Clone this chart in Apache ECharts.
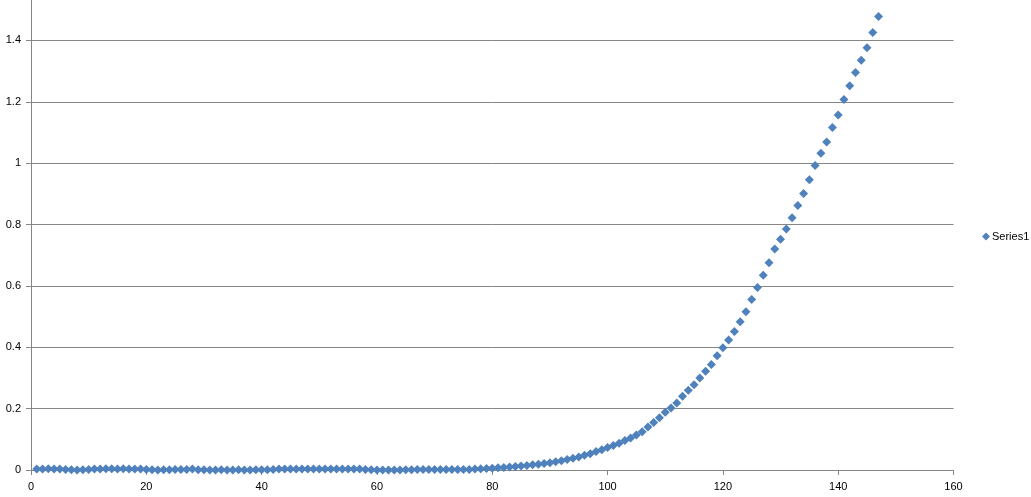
<!DOCTYPE html>
<html>
<head>
<meta charset="utf-8">
<script src="https://cdn.jsdelivr.net/npm/echarts@6/dist/echarts.min.js"></script>
<style>
html,body{margin:0;padding:0;background:#fff;}
#chart{width:1031px;height:497px;}
</style>
</head>
<body>
<div id="chart"></div>
<script>
var seriesName = 'Series1';
var xValues = [
  1,2,3,4,5,6,7,8,9,10,11,12,13,14,15,16,17,18,19,20,
  21,22,23,24,25,26,27,28,29,30,31,32,33,34,35,36,37,38,39,40,
  41,42,43,44,45,46,47,48,49,50,51,52,53,54,55,56,57,58,59,60,
  61,62,63,64,65,66,67,68,69,70,71,72,73,74,75,76,77,78,79,80,
  81,82,83,84,85,86,87,88,89,90,91,92,93,94,95,96,97,98,99,100,
  101,102,103,104,105,106,107,108,109,110,111,112,113,114,115,116,117,118,119,120,
  121,122,123,124,125,126,127,128,129,130,131,132,133,134,135,136,137,138,139,140,
  141,142,143,144,145,146,147
];
var yValues = [
  0.003,0.003,0.004,0.003,0.003,0.002,0.001,0.000,0.001,0.002,
  0.003,0.003,0.004,0.004,0.003,0.004,0.003,0.003,0.003,0.002,
  0.001,0.000,0.001,0.001,0.002,0.002,0.002,0.003,0.001,0.001,
  0.000,0.000,0.001,0.000,0.000,0.001,0.000,0.000,0.001,0.001,
  0.001,0.002,0.003,0.003,0.003,0.003,0.003,0.003,0.003,0.003,
  0.003,0.003,0.003,0.003,0.003,0.003,0.003,0.002,0.001,0.000,
  0.000,0.000,0.000,0.000,0.001,0.001,0.002,0.002,0.002,0.002,
  0.002,0.002,0.002,0.002,0.002,0.002,0.003,0.004,0.005,0.006,
  0.007,0.008,0.010,0.011,0.013,0.015,0.017,0.019,0.021,0.024,
  0.027,0.030,0.034,0.038,0.042,0.048,0.053,0.060,0.066,0.073,
  0.080,0.087,0.096,0.104,0.114,0.125,0.140,0.155,0.170,0.188,
  0.202,0.218,0.240,0.260,0.278,0.300,0.322,0.344,0.372,0.398,
  0.424,0.451,0.483,0.516,0.556,0.595,0.635,0.675,0.720,0.752,
  0.785,0.822,0.862,0.901,0.946,0.992,1.032,1.069,1.116,1.157,
  1.207,1.252,1.295,1.335,1.376,1.426,1.478
];
var xTicks = {min: 0, max: 160, interval: 20};
var yTicks = {min: 0, max: 1.6, interval: 0.2};

var points = xValues.map(function (x, i) { return [x, yValues[i]]; });
var gray = '#868686';
var font = 'Liberation Sans';

var chart = echarts.init(document.getElementById('chart'), null, {renderer: 'canvas'});
chart.setOption({
  animation: false,
  backgroundColor: '#ffffff',
  grid: {left: 31, right: 77.5, top: -21, bottom: 27, containLabel: false, outerBoundsMode: 'none'},
  legend: {
    data: [{name: seriesName, icon: 'diamond'}],
    left: 977, top: 226, orient: 'vertical',
    itemWidth: 8, itemHeight: 8, itemGap: 4,
    textStyle: {fontFamily: font, fontSize: 11, color: '#000', padding: [0, 0, 0, -3]}
  },
  xAxis: {
    type: 'value', min: xTicks.min, max: xTicks.max, interval: xTicks.interval,
    axisLine: {show: true, onZero: false, lineStyle: {color: gray, width: 1}},
    axisTick: {show: true, length: 5, lineStyle: {color: gray}},
    axisLabel: {fontFamily: font, fontSize: 11, color: '#000', margin: 11},
    splitLine: {show: false}
  },
  yAxis: {
    type: 'value', min: yTicks.min, max: yTicks.max, interval: yTicks.interval,
    axisLine: {show: true, lineStyle: {color: gray, width: 1}},
    axisTick: {show: true, length: 5, lineStyle: {color: gray}},
    axisLabel: {fontFamily: font, fontSize: 11, color: '#000', margin: 10,
      formatter: function (v) { return String(Math.round(v * 10) / 10); }},
    splitLine: {show: true, lineStyle: {color: gray, width: 1}}
  },
  series: [{
    name: seriesName,
    type: 'scatter',
    symbol: 'diamond',
    symbolSize: 9,
    itemStyle: {color: '#4F81BD', opacity: 1},
    data: points
  }]
});
</script>
</body>
</html>
